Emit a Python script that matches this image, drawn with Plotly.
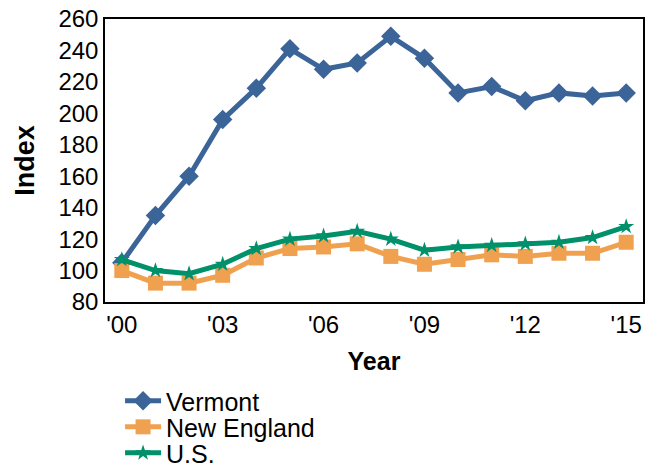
import plotly.graph_objects as go

years = list(range(2000, 2016))
tick_vals = [2000, 2003, 2006, 2009, 2012, 2015]
tick_text = ["'00", "'03", "'06", "'09", "'12", "'15"]

vermont = [105, 135, 160, 196, 216, 241, 228, 232, 249, 235, 213, 217, 208, 213, 211, 213]
new_england = [100, 92, 92, 97, 108, 114, 115, 117, 109, 104, 107, 110, 109, 111, 111, 118]
us = [107, 100, 98, 104, 114, 120, 122, 125, 120, 113, 115, 116, 117, 118, 121, 128]

fig = go.Figure()
fig.add_trace(go.Scatter(x=years, y=vermont, name="Vermont", mode="lines+markers",
                         legend="legend",
                         line=dict(color="#3b6499", width=5),
                         marker=dict(symbol="diamond", size=15, color="#3b6499")))
fig.add_trace(go.Scatter(x=years, y=new_england, name="New England", mode="lines+markers",
                         legend="legend2",
                         line=dict(color="#f0a150", width=5),
                         marker=dict(symbol="square", size=15, color="#f0a150")))
fig.add_trace(go.Scatter(x=years, y=us, name="U.S.", mode="lines+markers",
                         legend="legend3",
                         line=dict(color="#00906a", width=5),
                         marker=dict(symbol="star", size=12, color="#00906a")))

leg_common = dict(x=0.028, xanchor="left", yanchor="middle", orientation="v",
                  itemwidth=36, font=dict(size=25), bgcolor="rgba(0,0,0,0)")

fig.update_layout(
    width=657, height=463,
    margin=dict(l=105, r=14, t=19, b=161, autoexpand=False),
    plot_bgcolor="white", paper_bgcolor="white",
    font=dict(family="Liberation Sans, Arial, sans-serif", size=24, color="black"),
    xaxis=dict(range=[1999.5, 2015.5], tickvals=tick_vals, ticktext=tick_text,
               showgrid=False, zeroline=False, showline=True, linecolor="black",
               linewidth=1.5, mirror=True, ticks="", tickfont=dict(size=24),
               title=dict(text="<b>Year</b>", font=dict(size=25), standoff=16)),
    yaxis=dict(range=[80, 260], dtick=20, showgrid=False, zeroline=False,
               showline=True, linecolor="black", linewidth=1.5, mirror=True, ticks="",
               tickfont=dict(size=24),
               title=dict(text="<b>Index</b>", font=dict(size=27), standoff=16)),
    legend=dict(y=-0.35, **leg_common),
    legend2=dict(y=-0.442, **leg_common),
    legend3=dict(y=-0.534, **leg_common),
    showlegend=True,
)

fig.write_html("out.html", config={"displayModeBar": False})

# remove the default page margin so the figure sits at the window's top-left corner
with open("out.html", "r", encoding="utf-8") as f:
    html = f.read()
html = html.replace("<head>", "<head><style>html,body{margin:0;padding:0;overflow:hidden;}</style>", 1)
with open("out.html", "w", encoding="utf-8") as f:
    f.write(html)
